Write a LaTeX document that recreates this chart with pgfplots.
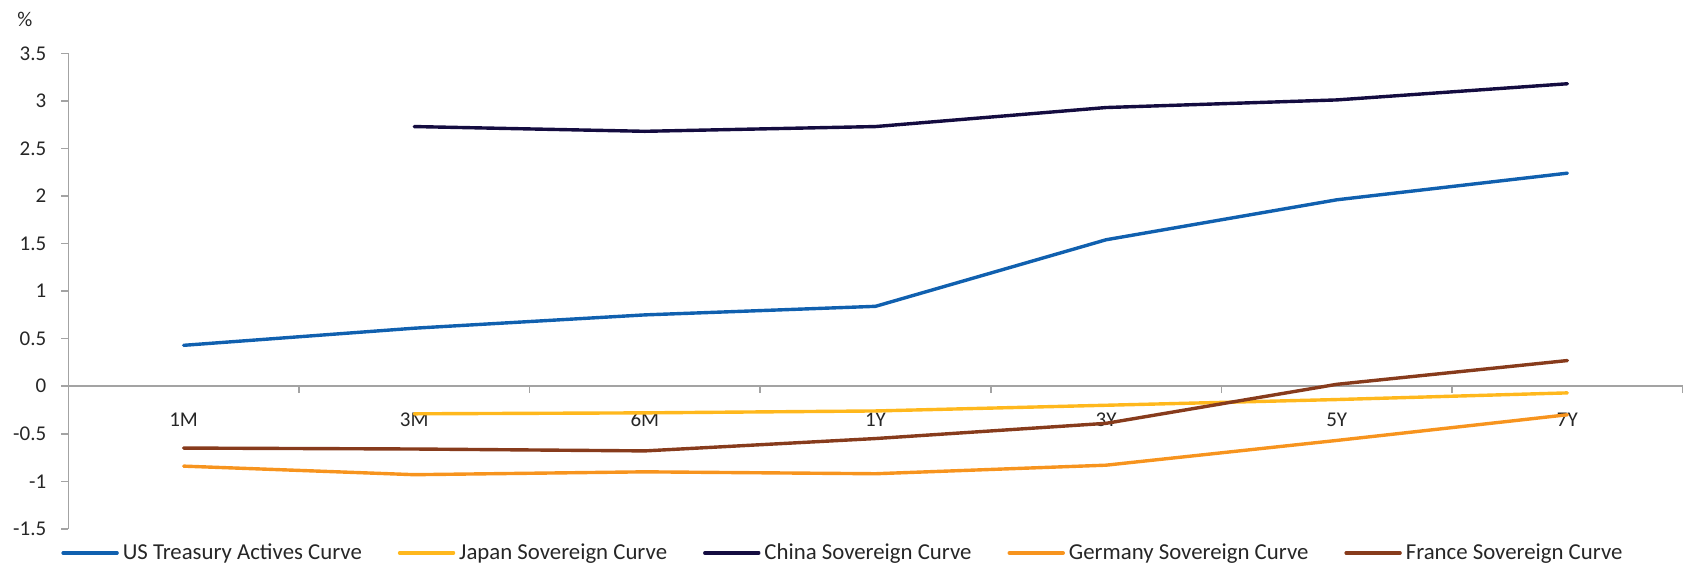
\documentclass[border=0pt]{standalone}
\usepackage{fontspec}
\setmainfont{Carlito}
\usepackage{pgfplots}
\pgfplotsset{compat=1.18}

\definecolor{axisgray}{HTML}{A3A3A3}
\definecolor{usblue}{HTML}{1060AF}
\definecolor{jpyellow}{HTML}{FFB81D}
\definecolor{cnnavy}{HTML}{140C40}
\definecolor{deorange}{HTML}{F7941E}
\definecolor{frbrown}{HTML}{873B1C}

% tenor index: 0=1M 1=3M 2=6M 3=1Y 4=3Y 5=5Y 6=7Y
\begin{document}
\begin{tikzpicture}
\useasboundingbox (-34.15pt,-20pt) rectangle (808.35pt,264.45pt);
\begin{axis}[
  at={(0,0)}, anchor=south west,
  scale only axis, width=807.2pt, height=237.8pt,
  xmin=-0.5, xmax=6.5, ymin=-1.5, ymax=3.5,
  axis x line=middle, axis y line=left,
  axis line style={draw=axisgray, line width=0.75pt, -},
  hide obscured x ticks=false, hide obscured y ticks=false,
  xtick={0.5,1.5,2.5,3.5,4.5,5.5,6.5},
  xticklabels={1M,3M,6M,1Y,3Y,5Y,7Y},
  ytick={-1.5,-1,-0.5,0,0.5,1,1.5,2,2.5,3,3.5},
  tick align=outside, major tick length=3.5pt,
  tick style={draw=axisgray, line width=0.75pt},
  ticklabel style={font=\fontsize{10.5}{12}\selectfont, text=black!85},
  xticklabel style={anchor=center, xshift=-57.66pt, yshift=-13.3pt},
  yticklabel style={xshift=-4pt},
  /pgf/number format/assume math mode=true,
  /pgf/number format/.cd, fixed, precision=1, /pgfplots/.cd,
  clip=false,
  every axis plot/.append style={line width=1.7pt, line cap=round, line join=round},
  legend columns=5,
  legend style={at={(rel axis cs:0,0)}, anchor=west, xshift=-3.65pt, yshift=-12pt,
    draw=none, fill=none, inner sep=0pt,
    font=\fontsize{11.4}{13}\selectfont, text=black!85,
    nodes={inner sep=0pt},
    /tikz/every odd column/.append style={column sep=2pt},
    /tikz/every even column/.append style={column sep=18pt}},
  legend image code/.code={\draw[#1] (0pt,0pt) -- (27pt,0pt);},
]
\addplot[usblue] coordinates {(0,0.43) (1,0.61) (2,0.75) (3,0.84) (4,1.54) (5,1.96) (6,2.24)};
\addlegendentry{US Treasury Actives Curve}
\addplot[jpyellow] coordinates {(1,-0.29) (2,-0.28) (3,-0.26) (4,-0.20) (5,-0.14) (6,-0.07)};
\addlegendentry{Japan Sovereign Curve}
\addplot[cnnavy] coordinates {(1,2.73) (2,2.68) (3,2.73) (4,2.93) (5,3.01) (6,3.18)};
\addlegendentry{China Sovereign Curve}
\addplot[deorange] coordinates {(0,-0.84) (1,-0.93) (2,-0.90) (3,-0.92) (4,-0.83) (5,-0.57) (6,-0.30)};
\addlegendentry{Germany Sovereign Curve}
\addplot[frbrown] coordinates {(0,-0.65) (1,-0.66) (2,-0.68) (3,-0.55) (4,-0.39) (5,0.02) (6,0.27)};
\addlegendentry{France Sovereign Curve}
\end{axis}
\node[font=\fontsize{10.5}{12}\selectfont, text=black!85] at ([xshift=-21.65pt,yshift=16.95pt]current axis.north west) {\%};
\end{tikzpicture}
\end{document}
